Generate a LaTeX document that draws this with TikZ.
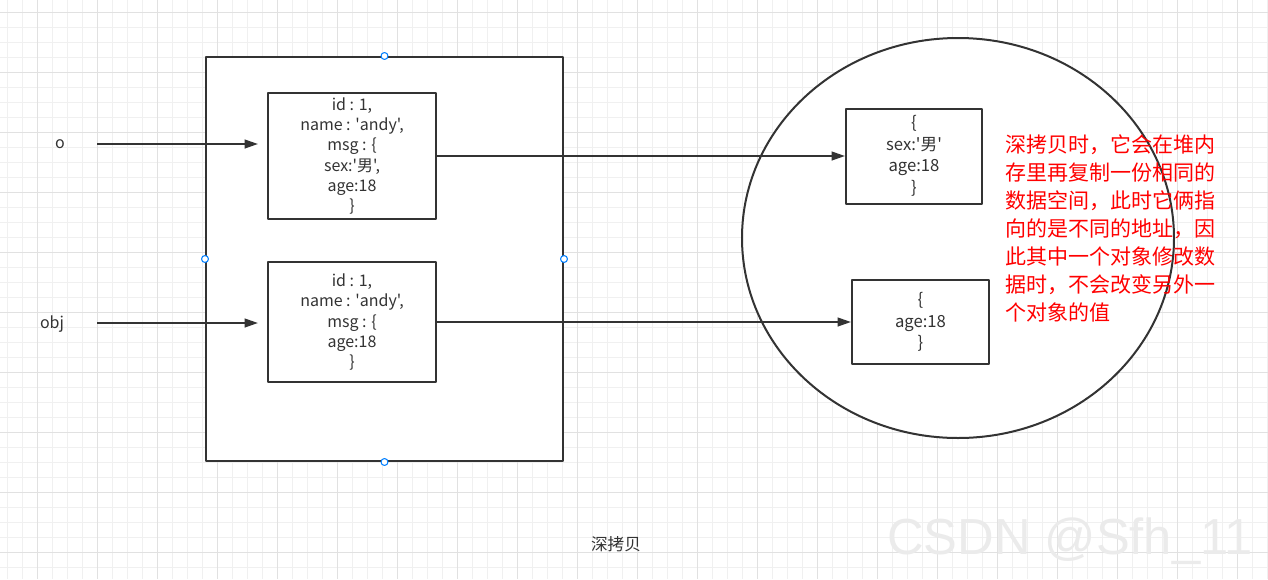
\documentclass[tikz,border=0pt]{standalone}
\usepackage{fontspec}
\setmainfont{Noto Sans CJK SC}
\newfontfamily\boxfont{Noto Sans CJK SC}
\newfontfamily\markfont{Liberation Sans}
\usetikzlibrary{arrows.meta,positioning}
\definecolor{inkgray}{RGB}{51,51,51}
\definecolor{gridminor}{RGB}{240,240,240}
\definecolor{gridmajor}{RGB}{225,225,225}
\definecolor{handleblue}{RGB}{0,127,255}
\definecolor{notered}{RGB}{255,0,0}
\newcommand\narrowsp{\spaceskip=0.22em plus 0.05em\relax}
\tikzset{
  objbox/.style={draw=inkgray, line width=1.5pt, fill=white, align=center,
    text=inkgray, inner sep=0pt, font=\boxfont\fontsize{12pt}{15.2pt}\selectfont\narrowsp},
  heapbox/.style={objbox, font=\boxfont\fontsize{12.5pt}{16.2pt}\selectfont\narrowsp},
  ptr/.style={draw=inkgray, line width=1.5pt, -{Triangle[length=10pt,width=6.5pt]}},
  handle/.style={draw=handleblue, fill=white, line width=0.8pt},
  varname/.style={text=inkgray, font=\boxfont\fontsize{12pt}{13pt}\selectfont}
}
\begin{document}
\begin{tikzpicture}[x=0.75pt, y=-0.75pt, line join=round]
	\useasboundingbox (0,0) rectangle (1268,579);
	\fill[white] (0,0) rectangle (1268,579);
	% grid
	\foreach \gx in {7,22,...,1267}
	\draw[gridminor, line width=0.75pt] (\gx,0) -- (\gx,579);
	\foreach \gy in {12,27,...,578}
	\draw[gridminor, line width=0.75pt] (0,\gy) -- (1268,\gy);
	\foreach \gx in {37,97,...,1267}
	\draw[gridmajor, line width=0.75pt] (\gx,0) -- (\gx,579);
	\foreach \gy in {12,72,...,578}
	\draw[gridmajor, line width=0.75pt] (0,\gy) -- (1268,\gy);
	% stack frame
	\node[draw=inkgray, line width=1.5pt, fill=white, minimum width=267.75pt,
	  minimum height=303pt, inner sep=0pt] (frame) at (384.5,259) {};
	\node[objbox, minimum width=126pt, minimum height=94.5pt] (o1) at (352,156)
	  {id : 1,\\name : 'andy',\\msg : \{\\sex:'男',\\age:18\\\}};
	\node[objbox, minimum width=126pt, minimum height=90pt] (o2) at (352,322)
	  {id : 1,\\name : 'andy',\\msg : \{\\age:18\\\}};
	\foreach \a in {north,south,west,east}
	\draw[handle] (frame.\a) circle (2.6pt);
	% heap
	\draw[inkgray, line width=1.5pt, fill=white] (958,238) ellipse (162pt and 150pt);
	\node[heapbox, minimum width=102pt, minimum height=71.25pt] (m1) at (914,156)
	  {\{\\sex:'男'\\age:18\\\}};
	\node[heapbox, minimum width=102.75pt, minimum height=63pt] (m2) at (920.5,322)
	  {\{\\age:18\\\}};
	\node[anchor=north west, align=left, text=notered, inner sep=0pt,
	  font=\fontsize{15.75pt}{21pt}\selectfont] (note) at (1005,134)
	  {深拷贝时，它会在堆内\\存里再复制一份相同的\\数据空间，此时它俩指\\向的是不同的地址，因\\此其中一个对象修改数\\据时，不会改变另外一\\个对象的值};
	% pointers
	\node[varname] (o) at (60,144) {o};
	\node[varname] (obj) at (52,324) {obj};
	\path (97,144) coordinate (os) (97,323) coordinate (objs);
	\draw[ptr, shorten >=6.75pt] (os) -- (os -| o1.west);
	\draw[ptr, shorten >=6.75pt] (objs) -- (objs -| o2.west);
	\draw[ptr] (o1.east) -- (m1.west);
	\draw[ptr] (o2.east) -- (m2.west);
	\node[text=inkgray, font=\fontsize{12.5pt}{14pt}\selectfont] (title) at (616,544) {深拷贝};
	\node[text=black!8, font=\markfont\fontsize{38pt}{40pt}\selectfont] (mark) at (1070,541) {CSDN @Sfh\_11};
\end{tikzpicture}
\end{document}
